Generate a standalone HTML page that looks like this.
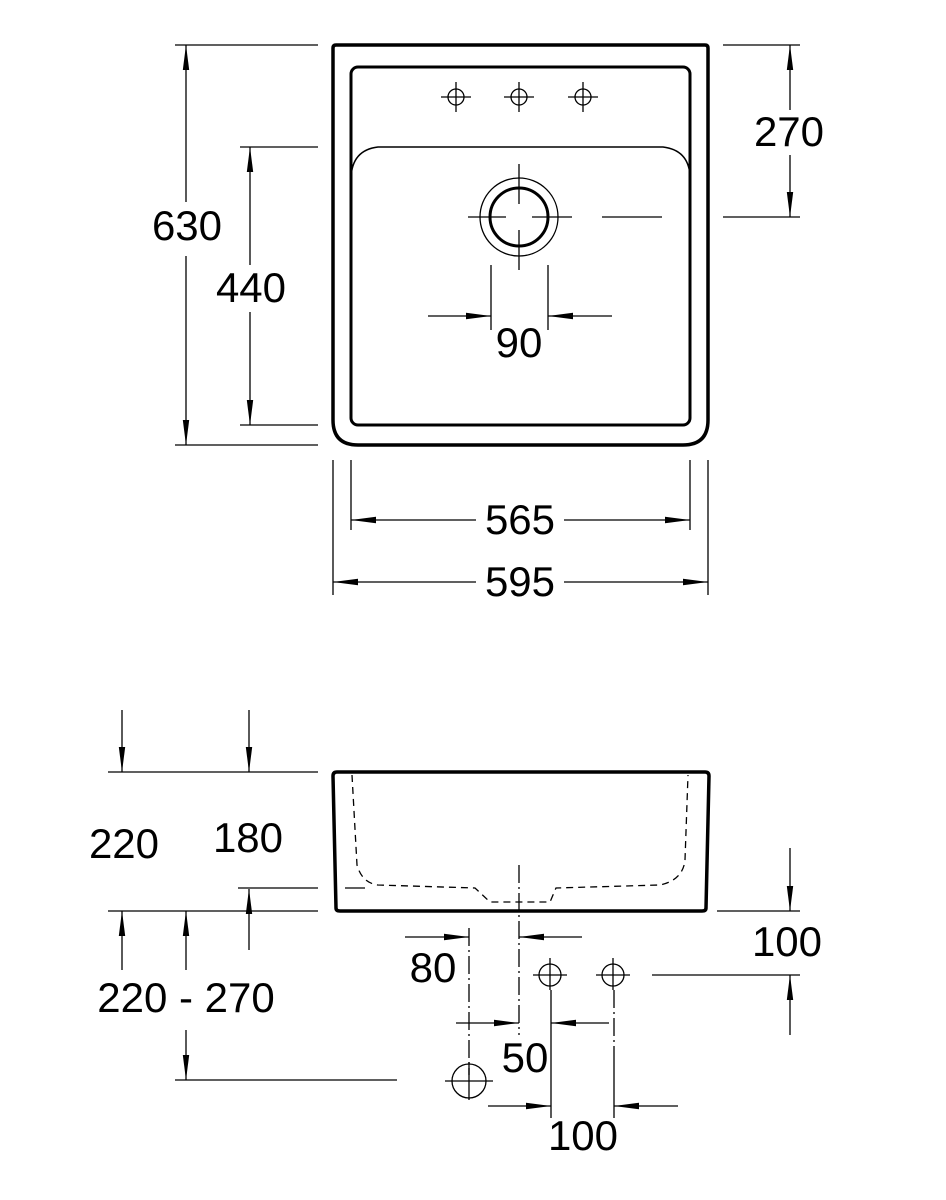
<!DOCTYPE html>
<html><head><style>body{margin:0;background:#fff}svg{display:block}text{font-family:"Liberation Sans",sans-serif;font-size:42px;fill:#000;text-anchor:middle}</style></head>
<body>
<svg width="946" height="1200" viewBox="0 0 946 1200" xmlns="http://www.w3.org/2000/svg">
<defs><marker id="a" viewBox="0 0 25 8" refX="25" refY="4" markerWidth="25" markerHeight="8" markerUnits="userSpaceOnUse" orient="auto"><path d="M0,0.8L25,4L0,7.2z" fill="#000"/></marker></defs>
<g fill="none" stroke="#000">
<!-- top view -->
<path d="M336,45H705Q708,45 708,48V420Q708,445 683,445H358Q333,445 333,420V48Q333,45 336,45Z" stroke-width="3.5"/>
<rect x="351" y="67" width="339" height="358" rx="7" stroke-width="3"/>
<path d="M351,178Q352,150 378,147H663Q688,150 690,175" stroke-width="1.5"/>
<g stroke-width="1.3">
<circle cx="456" cy="97" r="8"/><path d="M441,97h30M456,82v30"/>
<circle cx="519" cy="97" r="8"/><path d="M504,97h30M519,82v30"/>
<circle cx="583" cy="97" r="8"/><path d="M568,97h30M583,82v30"/>
<circle cx="519" cy="217" r="39"/>
<path d="M519,164v40M519,230v40M468,217h38M532,217h40M602,217h60M723,217h77M723,45h77"/>
</g>
<circle cx="519" cy="217" r="29" stroke-width="3"/>
<g stroke-width="1.3">
<path d="M175,45h143M175,445h143M240,147h78M240,425h78"/>
<path d="M186,202V45" marker-end="url(#a)"/><path d="M186,256V445" marker-end="url(#a)"/>
<path d="M250,265V147" marker-end="url(#a)"/><path d="M250,312V425" marker-end="url(#a)"/>
<path d="M790,110V45" marker-end="url(#a)"/><path d="M790,155V217" marker-end="url(#a)"/>
<path d="M491,265v65M548,265v65"/>
<path d="M428,316H491" marker-end="url(#a)"/><path d="M612,316H548" marker-end="url(#a)"/>
<path d="M351,460v70M690,460v70M333,460v135M708,460v135"/>
<path d="M476,520H351" marker-end="url(#a)"/><path d="M564,520H690" marker-end="url(#a)"/>
<path d="M476,582H333" marker-end="url(#a)"/><path d="M564,582H708" marker-end="url(#a)"/>
</g>
<!-- side view -->
<path d="M337,772H705Q709,772 709,776L706,908Q706,911 702,911H340Q336,911 336,908L333,776Q333,772 337,772Z" stroke-width="3.5"/>
<path d="M352,775L357,865Q362,883 378,885L475,888L490,902H550L556,888L660,885Q683,880 685,860L688,775" stroke-width="1.3" stroke-dasharray="7,5"/>
<g stroke-width="1.3">
<path d="M345,888h20"/>
<path d="M519,865V1035" stroke-dasharray="18,4,2,4"/>
<path d="M469,928V1075" stroke-dasharray="18,4,2,4"/>
<path d="M614,990V1050" stroke-dasharray="18,4,2,4"/>
<path d="M551,990V1118M614,1050V1118"/>
<circle cx="550" cy="975" r="11"/><path d="M533,975h34M550,958v32"/>
<circle cx="613" cy="975" r="11"/><path d="M596,975h34M613,958v32"/>
<circle cx="469" cy="1081" r="17"/><path d="M445,1081h48M469,1062v38"/>
<path d="M405,937H469" marker-end="url(#a)"/><path d="M582,937H519" marker-end="url(#a)"/>
<path d="M456,1023H519" marker-end="url(#a)"/><path d="M609,1023H551" marker-end="url(#a)"/>
<path d="M488,1106H551" marker-end="url(#a)"/><path d="M678,1106H614" marker-end="url(#a)"/>
<path d="M108,772h210M238,888h80M108,911h210M175,1080h222M717,911h83M652,975h148"/>
<path d="M122,710V772" marker-end="url(#a)"/><path d="M249,710V772" marker-end="url(#a)"/>
<path d="M249,950V889" marker-end="url(#a)"/>
<path d="M122,970V911" marker-end="url(#a)"/>
<path d="M186,970V911" marker-end="url(#a)"/><path d="M186,1030V1080" marker-end="url(#a)"/>
<path d="M790,848V911" marker-end="url(#a)"/><path d="M790,1035V975" marker-end="url(#a)"/>
</g>
</g>
<text x="187" y="240">630</text>
<text x="251" y="302">440</text>
<text x="789" y="146">270</text>
<text x="519" y="357">90</text>
<text x="520" y="534">565</text>
<text x="520" y="596">595</text>
<text x="124" y="858">220</text>
<text x="248" y="852">180</text>
<text x="186" y="1012">220 - 270</text>
<text x="787" y="956">100</text>
<text x="433" y="982">80</text>
<text x="525" y="1072">50</text>
<text x="583" y="1150">100</text>
</svg>
</body></html>
